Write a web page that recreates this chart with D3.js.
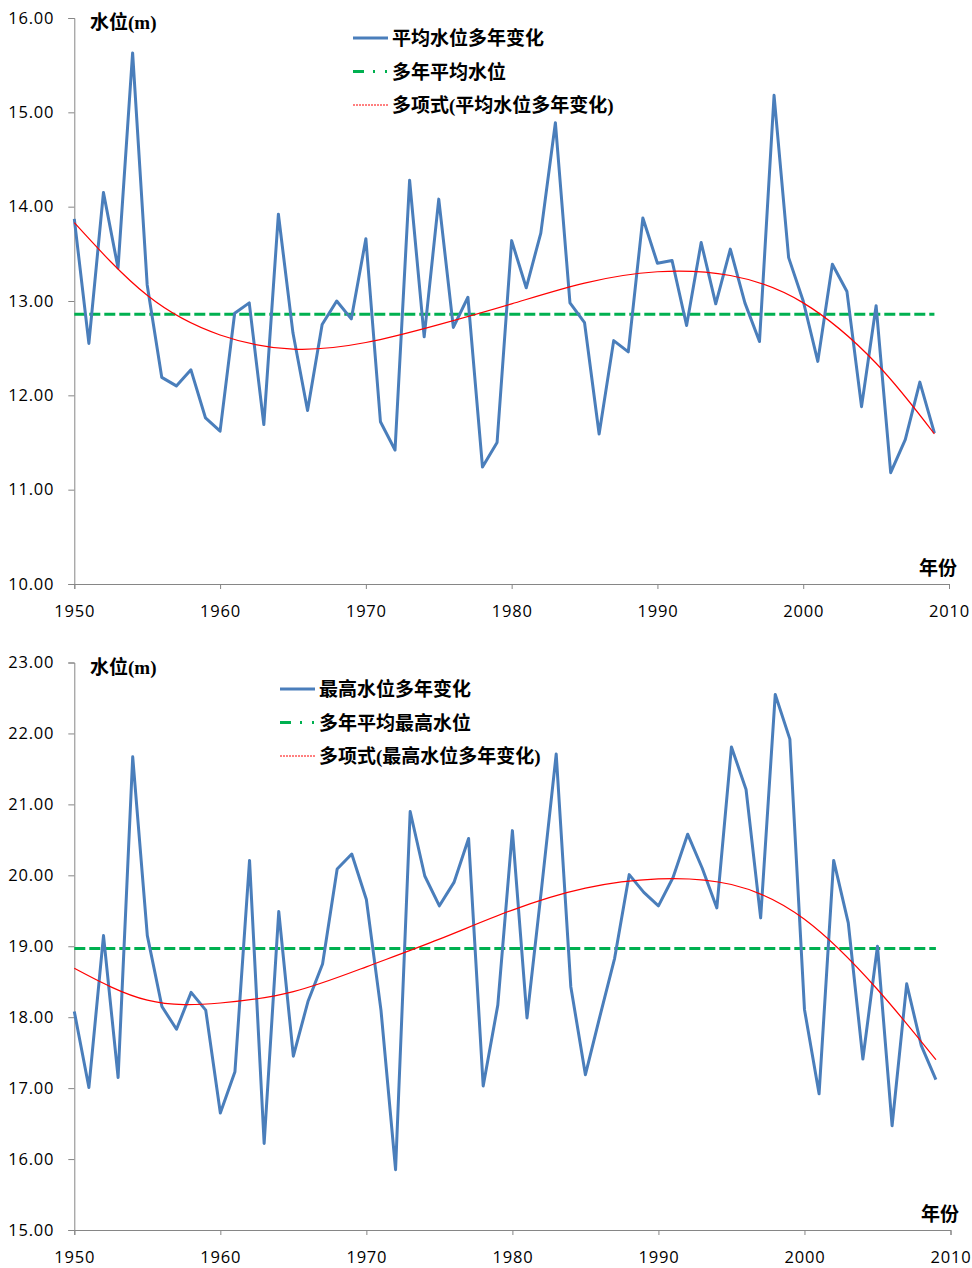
<!DOCTYPE html>
<html>
<head>
<meta charset="utf-8">
<script src="https://cdn.jsdelivr.net/npm/d3@7/dist/d3.min.js"></script>
<style>
    body { margin: 0; background: #fff; }
    .axis path, .axis line { stroke: #868686; stroke-width: 1; }
    .axis text { font-family: "Open Sans", sans-serif; font-size: 16.5px; letter-spacing: 0.8px; fill: #000; }
    .lbl { font-family: "Liberation Serif", "Noto Sans CJK SC", serif; font-weight: bold; font-size: 19px; fill: #000; }
</style>
</head>
<body>
<div id="chart"></div>
<script>
// years 1950 - 2009, one value per year
const years = d3.range(1950, 2010);

// 平均水位 (annual mean level), m
const avgLevel = [
    13.87, 12.55, 14.15, 13.35, 15.63, 13.17, 12.19, 12.10, 12.27, 11.76,
    11.62, 12.87, 12.98, 11.69, 13.92, 12.66, 11.84, 12.75, 13.00, 12.81,
    13.66, 11.72, 11.42, 14.28, 12.62, 14.08, 12.72, 13.04, 11.24, 11.50,
    13.64, 13.14, 13.72, 14.89, 12.98, 12.77, 11.59, 12.58, 12.46, 13.88,
    13.40, 13.43, 12.74, 13.62, 12.97, 13.55, 12.98, 12.57, 15.18, 13.46,
    13.00, 12.36, 13.39, 13.10, 11.88, 12.95, 11.18, 11.53, 12.14, 11.60
];

// 最高水位 (annual max level), m
const maxLevel = [
    18.08, 17.01, 19.15, 17.15, 21.67, 19.15, 18.15, 17.83, 18.35, 18.10,
    16.65, 17.23, 20.21, 16.22, 19.49, 17.45, 18.22, 18.75, 20.09, 20.30,
    19.66, 18.10, 15.85, 20.90, 19.99, 19.57, 19.90, 20.52, 17.03, 18.17,
    20.63, 17.99, 19.82, 21.71, 18.43, 17.19, 18.02, 18.83, 20.01, 19.76,
    19.57, 19.97, 20.58, 20.10, 19.54, 21.81, 21.21, 19.40, 22.55, 21.92,
    18.11, 16.92, 20.21, 19.33, 17.41, 19.00, 16.47, 18.47, 17.60, 17.12
];

// multi-year means (horizontal reference lines)
const avgMean = 12.86;
const maxMean = 18.97;

// polynomial trend
const trendYears = [1950, 1955, 1960, 1965, 1970, 1975, 1980, 1985, 1990, 1995, 2000, 2005, 2009];
const trendAvg = [13.83, 13.06, 12.64, 12.49, 12.56, 12.75, 12.97, 13.19, 13.31, 13.27, 12.98, 12.34, 11.59];
const trendMax = [18.69, 18.24, 18.20, 18.36, 18.71, 19.10, 19.51, 19.82, 19.95, 19.87, 19.38, 18.39, 17.40];

const xTicks = [1950, 1960, 1970, 1980, 1990, 2000, 2010];
const yTicksAvg = [10, 11, 12, 13, 14, 15, 16];
const yTicksMax = [15, 16, 17, 18, 19, 20, 21, 22, 23];

const legendAvg = ['平均水位多年变化', '多年平均水位', '多项式(平均水位多年变化)'];
const legendMax = ['最高水位多年变化', '多年平均最高水位', '多项式(最高水位多年变化)'];

const blue = '#4a7ebb', green = '#00b050', red = '#ff0000';

let svg = d3.select('#chart').append('svg')
    .attr('width', 972)
    .attr('height', 1268);

let panels = [
    { top: 18, bottom: 584, left: 74.3, right: 949, domain: [10, 16], yTicks: yTicksAvg,
      values: avgLevel, mean: avgMean, trend: trendAvg, legend: legendAvg, legendX: 353, legendY: 38, yearLblX: 919 },
    { top: 662.5, bottom: 1230, left: 74.3, right: 950.5, domain: [15, 23], yTicks: yTicksMax,
      values: maxLevel, mean: maxMean, trend: trendMax, legend: legendMax, legendX: 280, legendY: 689, yearLblX: 921 }
];

panels.forEach(function (p) {
    let x = d3.scaleLinear().domain([1950, 2010]).range([p.left, p.right]);
    let y = d3.scaleLinear().domain(p.domain).range([p.bottom, p.top]);

    let g = svg.append('g');

    // axes
    g.append('g')
        .attr('class', 'axis')
        .attr('transform', 'translate(0,' + p.bottom + ')')
        .call(d3.axisBottom(x).tickValues(xTicks).tickFormat(d3.format('d'))
            .tickSize(5).tickSizeOuter(5).tickPadding(16.5));

    g.append('g')
        .attr('class', 'axis')
        .attr('transform', 'translate(' + p.left + ',0)')
        .call(d3.axisLeft(y).tickValues(p.yTicks).tickFormat(d3.format('.2f'))
            .tickSize(6).tickSizeOuter(6).tickPadding(14));

    // mean line (dashed green)
    g.append('line')
        .attr('x1', x(1950)).attr('x2', x(2009))
        .attr('y1', y(p.mean)).attr('y2', y(p.mean))
        .attr('stroke', green)
        .attr('stroke-width', 3)
        .attr('stroke-dasharray', '11,4');

    // yearly series
    let series = years.map(function (yr, i) { return [yr, p.values[i]]; });
    let line = d3.line()
        .x(function (d) { return x(d[0]); })
        .y(function (d) { return y(d[1]); });

    g.append('path')
        .attr('d', line(series))
        .attr('fill', 'none')
        .attr('stroke', blue)
        .attr('stroke-width', 3)
        .attr('stroke-linejoin', 'round');

    // polynomial trend
    let trend = trendYears.map(function (yr, i) { return [yr, p.trend[i]]; });
    g.append('path')
        .attr('d', line.curve(d3.curveNatural)(trend))
        .attr('fill', 'none')
        .attr('stroke', red)
        .attr('stroke-width', 1.2);

    // axis titles
    g.append('text')
        .attr('class', 'lbl')
        .attr('x', 90)
        .attr('y', p.top + 11)
        .text('水位(m)');

    g.append('text')
        .attr('class', 'lbl')
        .attr('x', p.yearLblX)
        .attr('y', p.bottom - 9)
        .text('年份');

    // legend
    let lx = p.legendX, ly = p.legendY, gap = 33.5;
    g.append('line')
        .attr('x1', lx).attr('x2', lx + 35)
        .attr('y1', ly).attr('y2', ly)
        .attr('stroke', blue).attr('stroke-width', 3);
    g.append('line')
        .attr('x1', lx).attr('x2', lx + 36)
        .attr('y1', ly + gap).attr('y2', ly + gap)
        .attr('stroke', green).attr('stroke-width', 3)
        .attr('stroke-dasharray', '11,9,2,10,2,10');
    g.append('line')
        .attr('x1', lx).attr('x2', lx + 35)
        .attr('y1', ly + gap * 2).attr('y2', ly + gap * 2)
        .attr('stroke', red).attr('stroke-width', 1)
        .attr('stroke-dasharray', '2,1');

    p.legend.forEach(function (t, i) {
        g.append('text')
            .attr('class', 'lbl')
            .attr('x', lx + 39)
            .attr('y', ly + gap * i + 7)
            .text(t);
    });
});
</script>
</body>
</html>
